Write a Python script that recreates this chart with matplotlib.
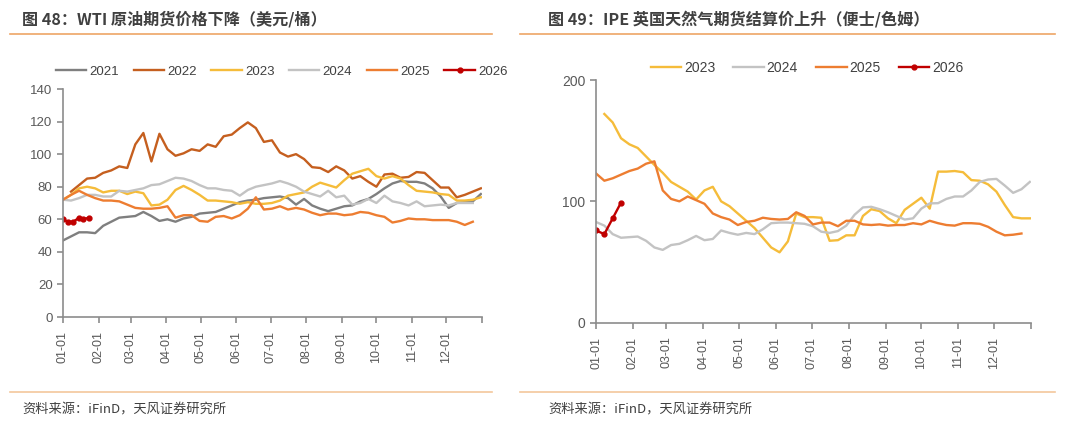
import numpy as np
import matplotlib
matplotlib.use('Agg')
from matplotlib import pyplot as plt
from matplotlib.lines import Line2D

plt.rcParams['font.family'] = ['Liberation Sans', 'Noto Sans CJK SC', 'DejaVu Sans']

nan = np.nan

# ---- WTI crude futures, weekly (USD/bbl) ----
wti_2021 = [47, 49.5, 52, 52, 51.5, 56, 58.5, 61, 61.5, 62, 64.5, 62, 59, 60, 58.5, 60.5,
            61.5, 63.5, 64, 64.5, 66.5, 68.5, 70.5, 71.5, 72, 73, 73.5, 74, 73, 69, 72.5, 68.5,
            66.5, 65, 66.5, 68, 68.5, 71, 72.5, 75.5, 79, 82, 83.5, 83, 83, 82, 79, 74, 67, 70,
            70.5, 71, 75.5]
wti_2022 = [nan, 77, 81, 85, 85.5, 88.5, 90, 92.5, 91.5, 106, 113, 95.5, 112.5, 103, 99, 100.5,
            103, 102, 106, 104.5, 111, 112, 116, 119.5, 116, 107.5, 108.5, 101, 98.5, 100, 97, 92,
            91.5, 89, 92.5, 90, 85, 86.5, 83, 80, 87.5, 88, 85.5, 86, 89, 88.5, 84, 79.5, 79.5,
            73.5, 75, 77, 79]
wti_2023 = [72, 75, 79, 80, 79, 76.5, 77.5, 77.5, 75.5, 77, 76, 68.5, 69, 72, 78, 80.5,
            78, 75, 71.5, 71.5, 71, 70.5, 69.5, 70.5, 69.5, 69.5, 70, 71.5, 74.5, 75.5, 76.5, 80,
            82.5, 81, 79.5, 84, 88, 89.5, 91, 86.5, 85, 86.5, 85, 81, 77.5, 77, 76.5, 75.5, 75,
            71.5, 71.5, 72, 73.5]
wti_2024 = [72, 71.5, 73, 75, 75, 74, 74, 77.5, 77, 78, 79, 81, 81.5, 83.5, 85.5, 85,
            83.5, 81, 79, 79, 78, 77.5, 74.5, 78, 80, 81, 82, 83.5, 82, 80, 77, 75.5,
            74, 77.5, 73.5, 74.5, 69, 70, 72.5, 70, 74.5, 71, 70, 68.5, 71, 68, 68.5, 69, 68.5,
            70, 70, 70]
wti_2025 = [72, 75, 77.5, 75, 73, 71.5, 71.5, 71, 69, 67, 66.5, 66.5, 67, 68, 61, 62.5,
            62.5, 59, 58.5, 61.5, 62, 60.5, 62.5, 66.5, 73.5, 66, 66.5, 68, 66, 67, 66, 64,
            62.5, 63.5, 63.5, 62.5, 63, 64.5, 64, 62.5, 61.5, 58, 59, 60.5, 60, 60, 59.5, 59.5,
            59.5, 58.5, 56.5, 58.5]
wti_2026_days = [0, 4, 9, 14, 17, 23]
wti_2026 = [60, 58.5, 58.5, 61, 60, 61]

# ---- IPE UK natural gas futures settlement, weekly (pence/therm) ----
gas_2023 = [nan, 172, 165, 152, 147, 144, 137, 130, 123.5, 116, 112, 108, 101.5, 109, 112, 100,
            96, 90, 84, 78, 70, 62, 58, 67, 90, 87, 87, 86.5, 67.5, 68, 72, 72,
            88, 93.5, 92, 86, 82, 93, 98, 103, 94, 124.5, 124.5, 125, 124, 117.5, 117, 114,
            108, 97, 87, 86, 86]
gas_2024 = [83, 80, 73, 70, 70.5, 71, 67.5, 62, 60, 64, 65, 68, 71.5, 68, 69, 76,
            74, 72.5, 74, 73, 77, 82, 82.5, 82.5, 82, 81.5, 79.5, 75, 74, 75.5, 80, 89,
            95, 95.5, 93.5, 91, 88, 85, 86, 94, 98.3, 98.5, 102, 104, 104, 109, 116, 118,
            118.5, 113, 107, 110, 116]
gas_2025 = [123, 117, 119, 122, 125, 127, 131, 133, 109, 102, 100, 104, 101, 98, 90, 87,
            85, 80.5, 83, 84, 86.5, 85.5, 85, 85.5, 91, 88, 81, 82.5, 82.5, 79.5, 84, 84,
            81, 80.5, 81, 80, 80.5, 80.5, 82, 81, 84, 82, 80.5, 80, 82, 82, 81.5, 79,
            75, 72, 72.5, 73.5]
gas_2026_days = [0, 7, 14, 21]
gas_2026 = [76, 73, 86, 99]

month_days = [0, 31, 59, 90, 120, 151, 181, 212, 243, 273, 304, 334]
month_labels = ['01-01', '02-01', '03-01', '04-01', '05-01', '06-01',
                '07-01', '08-01', '09-01', '10-01', '11-01', '12-01']

colors = {'2021': '#7F7F7F', '2022': '#C55F1F', '2023': '#F5BC3A',
          '2024': '#C3C3C3', '2025': '#ED7D31', '2026': '#C00000'}

cjk = ['Noto Sans CJK SC', 'DejaVu Sans']
text_col = '#404040'
axis_col = '#8C8C8C'
sep_col = '#EEA566'


def weekly_days(values):
    return np.arange(len(values)) * 7


def style_axes(ax, ymax, yticks):
    ax.set_xlim(0, 365)
    ax.set_ylim(0, ymax)
    ax.set_yticks(yticks)
    ax.set_xticks(month_days + [365])
    ax.set_xticklabels(month_labels + [''], rotation=90)
    for s in ['top', 'right']:
        ax.spines[s].set_visible(False)
    for s in ['left', 'bottom']:
        ax.spines[s].set_color(axis_col)
        ax.spines[s].set_linewidth(1.2)
    ax.tick_params(axis='both', colors=axis_col, labelcolor='#595959',
                   labelsize=9.5, length=4, width=1.2, direction='out')
    ax.tick_params(axis='x', labelsize=9, pad=6)


fig = plt.figure(figsize=(10.8, 4.24), dpi=100)

# left chart
ax1 = fig.add_axes([63 / 1080, 1 - 317 / 424, 419 / 1080, 228 / 424])
lw = 1.7
ax1.plot(weekly_days(wti_2021), wti_2021, color=colors['2021'], lw=lw, label='2021')
ax1.plot(weekly_days(wti_2022), wti_2022, color=colors['2022'], lw=lw, label='2022')
ax1.plot(weekly_days(wti_2023), wti_2023, color=colors['2023'], lw=lw, label='2023')
ax1.plot(weekly_days(wti_2024), wti_2024, color=colors['2024'], lw=lw, label='2024')
ax1.plot(weekly_days(wti_2025), wti_2025, color=colors['2025'], lw=lw, label='2025')
ax1.plot(wti_2026_days, wti_2026, color=colors['2026'], lw=lw, marker='o', ms=3.5, label='2026')
style_axes(ax1, 140, range(0, 141, 20))
ax1.legend(loc='lower left', bbox_to_anchor=(-0.045, 0.998), ncol=6, frameon=False,
           fontsize=9.5, handlelength=2.3, handletextpad=0.25, columnspacing=1.1,
           labelcolor='#404040')

# right chart
ax2 = fig.add_axes([596 / 1080, 1 - 322.7 / 424, 435 / 1080, 242.7 / 424])
ax2.plot(weekly_days(gas_2023), gas_2023, color=colors['2023'], lw=lw, label='2023')
ax2.plot(weekly_days(gas_2024), gas_2024, color=colors['2024'], lw=lw, label='2024')
ax2.plot(weekly_days(gas_2025), gas_2025, color=colors['2025'], lw=lw, label='2025')
ax2.plot(gas_2026_days, gas_2026, color=colors['2026'], lw=lw, marker='o', ms=3.5, label='2026')
style_axes(ax2, 200, [0, 100, 200])
ax2.tick_params(axis='y', labelsize=10)
ax2.legend(loc='lower left', bbox_to_anchor=(0.097, 0.971), ncol=4, frameon=False,
           fontsize=10, handlelength=2.2, handletextpad=0.2, columnspacing=1.3,
           labelcolor='#404040')

# titles, separators and sources
fig.text(22 / 1080, 1 - 19 / 424, '图 48：WTI 原油期货价格下降（美元/桶）', family=cjk,
         fontsize=11.6, fontweight='bold', color=text_col, va='center')
fig.text(548 / 1080, 1 - 19 / 424, '图 49：IPE 英国天然气期货结算价上升（便士/色姆）', family=cjk,
         fontsize=11.6, fontweight='bold', color=text_col, va='center')
for x0, x1 in [(10, 492), (520, 1055)]:
    fig.add_artist(Line2D([x0 / 1080, x1 / 1080], [1 - 34 / 424] * 2, color=sep_col, lw=1.2))
    fig.add_artist(Line2D([x0 / 1080, x1 / 1080], [1 - 392 / 424] * 2, color='#F3C79C', lw=1.2))
fig.text(22 / 1080, 1 - 410 / 424, '资料来源：iFinD，天风证券研究所', family=cjk,
         fontsize=9.5, color=text_col, va='center')
fig.text(548 / 1080, 1 - 410 / 424, '资料来源：iFinD，天风证券研究所', family=cjk,
         fontsize=9.5, color=text_col, va='center')

fig.savefig('out.png', dpi=100)
